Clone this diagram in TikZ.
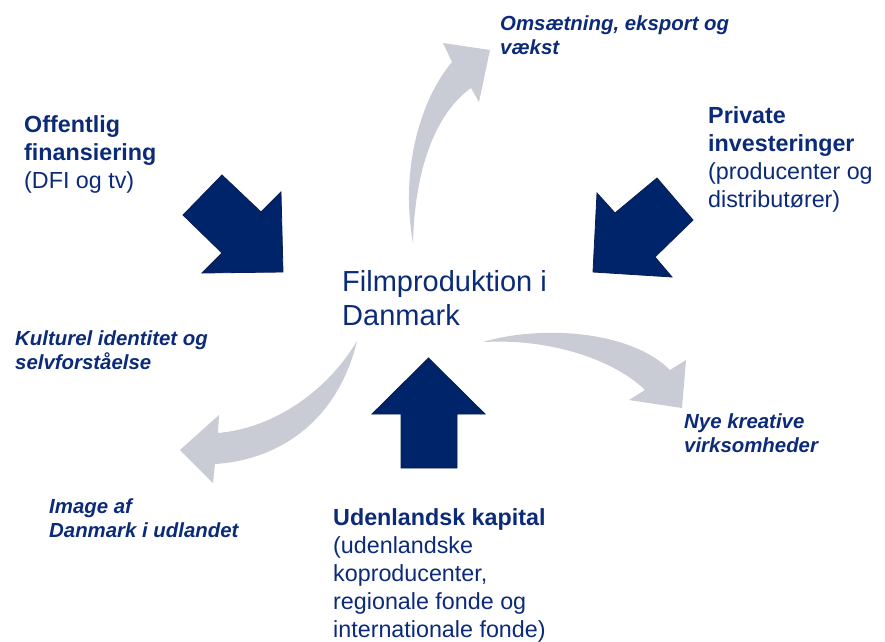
\documentclass[tikz,border=0pt]{standalone}
\usepackage{fontspec}
\setmainfont{Liberation Sans}
\definecolor{navy}{HTML}{002469}
\definecolor{navyedge}{HTML}{0A1E55}
\definecolor{grayarrow}{HTML}{C9CBD5}
\definecolor{textnavy}{HTML}{0B2A78}
\tikzset{
  blockarrow/.style={fill=navy, draw=navyedge, line width=0.8pt, line join=miter},
  curvearrow/.style={fill=grayarrow, draw=none},
  heading/.style={anchor=base west, inner sep=0pt, align=left, text=textnavy,
    font={\fontsize{23.3}{28}\selectfont}},
  label/.style={anchor=base west, inner sep=0pt, align=left, text=textnavy,
    font={\fontsize{20.4}{23.5}\selectfont\bfseries\itshape}},
  centre/.style={anchor=base west, inner sep=0pt, align=left, text=textnavy,
    font={\fontsize{29}{33.5}\selectfont}}
}
\begin{document}
\begin{tikzpicture}[x=1pt,y=-1pt]
\useasboundingbox (0,0) rectangle (885,641);
% gray curved arrows
\path[curvearrow] (413,243) .. controls (400,170) and (420,100) .. (452,62)
  -- (443,43) -- (490,50) -- (479,102) -- (471,88)
  .. controls (440,110) and (415,160) .. (413,243) -- cycle;
\path[curvearrow] (357,341) .. controls (338,420) and (280,460) .. (215,464)
  -- (213,483) -- (180,450) -- (219,415) -- (218,433)
  .. controls (275,428) and (328,390) .. (357,341) -- cycle;
\path[curvearrow] (483,342) .. controls (540,325) and (630,330) .. (670,370)
  -- (686,360) -- (682,408) -- (629,400) -- (645,390)
  .. controls (620,365) and (560,338) .. (483,342) -- cycle;
% navy block arrows
\draw[blockarrow] (222,175) -- (183,215) -- (222,253) -- (202,273) -- (283,272)
  -- (281,192) -- (261,212) -- cycle;
\draw[blockarrow] (657,178) -- (693,220) -- (655,257) -- (672,277) -- (593,272)
  -- (597,193) -- (615,213) -- cycle;
\draw[blockarrow] (428.5,358) -- (485,414) -- (457,414) -- (457,468) -- (401,468)
  -- (401,414) -- (372,414) -- cycle;
% texts (anchor is the baseline of the last line)
\node[centre] (centre) at (342,325) {Filmproduktion i\\Danmark};
\node[heading] (offentlig) at (24,188) {\textbf{Offentlig}\\\textbf{finansiering}\\(DFI og tv)};
\node[heading] (private) at (708,207) {\textbf{Private}\\\textbf{investeringer}\\(producenter og\\distributører)};
\node[heading] (udenlandsk) at (333,637) {\textbf{Udenlandsk kapital}\\(udenlandske\\koproducenter,\\regionale fonde og\\internationale fonde)};
\node[label] (omsaetning) at (500,54) {Omsætning, eksport og\\vækst};
\node[label] (kulturel) at (15,369) {Kulturel identitet og\\selvforståelse};
\node[label] (nye) at (684,452) {Nye kreative\\virksomheder};
\node[label] (image) at (49,537) {Image af\\Danmark i udlandet};
\end{tikzpicture}
\end{document}
